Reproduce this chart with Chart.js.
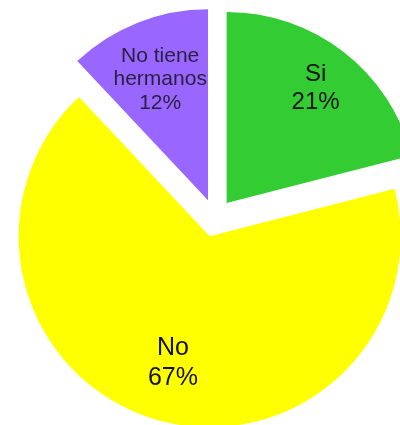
<!DOCTYPE html>
<html>
<head>
<meta charset="utf-8">
<script src="https://cdn.jsdelivr.net/npm/chart.js@4/dist/chart.umd.min.js"></script>
<style>
  html, body { margin: 0; padding: 0; background: #fff; }
  #wrap { width: 400px; height: 425px; }
</style>
</head>
<body>
<div id="wrap"><canvas id="pieChart"></canvas></div>
<script>
const labels = ['Si', 'No', 'No tiene hermanos'];
const values = [21, 67, 12];
const labelLines = [['Si'], ['No'], ['No tiene', 'hermanos']];

const colors = ['#33CC33', '#FFFF00', '#9966FF'];

// pull each slice away from the centre, Excel style
const explodePx = 19;

const explodePlugin = {
    id: 'explode',
    beforeDatasetDraw(chart, args) {
        const ctx = chart.ctx;
        args.meta.data.forEach(arc => {
            const mid = (arc.startAngle + arc.endAngle) / 2;
            ctx.save();
            ctx.translate(Math.cos(mid) * explodePx, Math.sin(mid) * explodePx);
            arc.draw(ctx);
            ctx.restore();
        });
        return false;
    },
    afterDatasetsDraw(chart) {
        const ctx = chart.ctx;
        const meta = chart.getDatasetMeta(0);
        const data = chart.data.datasets[0].data;
        const total = data.reduce((a, b) => a + b, 0);
        const dist = [0.76, 0.69, 0.68];
        const fonts = ['24px "Liberation Sans", Arial', '25px "Liberation Sans", Arial', '21px "Liberation Sans", Arial'];
        const lineH = [28, 30, 23.5];
        meta.data.forEach((arc, i) => {
            const mid = (arc.startAngle + arc.endAngle) / 2;
            const d = explodePx + arc.outerRadius * dist[i];
            const x = arc.x + Math.cos(mid) * d;
            const y = arc.y + Math.sin(mid) * d;
            const lines = labelLines[i].concat([Math.round(data[i] / total * 100) + '%']);
            ctx.save();
            ctx.font = fonts[i];
            ctx.fillStyle = i === 2 ? '#2a2040' : '#111';
            ctx.textAlign = 'center';
            ctx.textBaseline = 'middle';
            const top = y - (lines.length - 1) * lineH[i] / 2;
            lines.forEach((t, j) => ctx.fillText(t, x, top + j * lineH[i]));
            ctx.restore();
        });
    }
};

const ctx = document.getElementById('pieChart').getContext('2d');
const pieChart = new Chart(ctx, {
    type: 'pie',
    data: {
        labels: labels,
        datasets: [{
            data: values,
            backgroundColor: colors,
            borderWidth: 0,
            clip: false
        }]
    },
    options: {
        responsive: true,
        maintainAspectRatio: false,
        animation: false,
        radius: 191,
        layout: {
            padding: { left: 30, right: 0, top: 11, bottom: 0 }
        },
        plugins: {
            legend: { display: false },
            tooltip: { enabled: false }
        }
    },
    plugins: [explodePlugin]
});
</script>
</body>
</html>
